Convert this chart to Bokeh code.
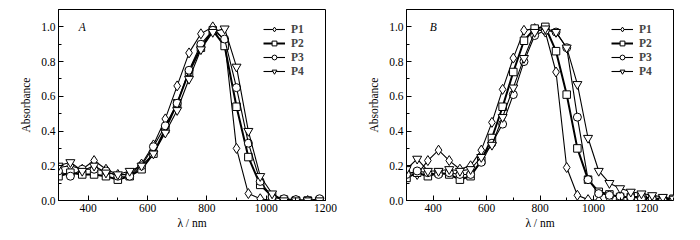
from bokeh.plotting import figure
from bokeh.layouts import row
from bokeh.models import SingleIntervalTicker, Legend, LegendItem, Label, Range1d, PrintfTickFormatter
from bokeh.embed import file_html
from bokeh.resources import INLINE

# Panel A data
wl_a = [300, 340, 380, 420, 460, 500, 540, 580, 620, 660, 700, 740, 780, 820, 860, 900, 940, 980, 1020, 1060, 1100, 1140, 1180]
a_p1 = [0.19, 0.20, 0.18, 0.23, 0.18, 0.15, 0.15, 0.21, 0.32, 0.47, 0.66, 0.85, 0.96, 1.00, 0.92, 0.30, 0.04, 0.01, 0.00, 0.00, 0.00, 0.00, 0.00]
a_p2 = [0.14, 0.16, 0.15, 0.15, 0.14, 0.12, 0.14, 0.18, 0.27, 0.41, 0.56, 0.74, 0.88, 0.98, 0.89, 0.54, 0.25, 0.09, 0.025, 0.005, 0.00, 0.00, 0.00]
a_p3 = [0.17, 0.14, 0.18, 0.18, 0.17, 0.14, 0.14, 0.20, 0.31, 0.43, 0.56, 0.75, 0.90, 0.98, 0.93, 0.65, 0.33, 0.11, 0.02, 0.01, 0.005, 0.00, 0.01]
a_p4 = [0.20, 0.22, 0.17, 0.20, 0.16, 0.15, 0.17, 0.20, 0.27, 0.39, 0.52, 0.70, 0.87, 0.97, 0.99, 0.77, 0.40, 0.14, 0.04, 0.00, 0.00, 0.00, 0.00]

# Panel B data
wl_b = [300, 340, 380, 420, 460, 500, 540, 580, 620, 660, 700, 740, 780, 820, 860, 900, 940, 980, 1020, 1060, 1100, 1140, 1180, 1220, 1260, 1300]
b_p1 = [0.17, 0.15, 0.23, 0.29, 0.23, 0.18, 0.20, 0.29, 0.45, 0.64, 0.82, 0.98, 0.99, 0.97, 0.74, 0.19, 0.03, 0.005, 0.00, 0.00, 0.00, 0.00, 0.00, 0.00, 0.00, 0.00]
b_p2 = [0.13, 0.16, 0.14, 0.16, 0.15, 0.12, 0.14, 0.23, 0.36, 0.54, 0.74, 0.92, 0.99, 1.00, 0.86, 0.61, 0.30, 0.12, 0.05, 0.035, 0.02, 0.02, 0.02, 0.01, 0.01, 0.01]
b_p3 = [0.15, 0.17, 0.16, 0.15, 0.16, 0.15, 0.15, 0.22, 0.33, 0.44, 0.61, 0.80, 0.95, 0.98, 0.97, 0.88, 0.48, 0.12, 0.04, 0.03, 0.025, 0.02, 0.01, 0.01, 0.005, 0.005]
b_p4 = [0.18, 0.24, 0.17, 0.17, 0.18, 0.17, 0.18, 0.25, 0.32, 0.48, 0.65, 0.82, 0.97, 0.99, 0.97, 0.88, 0.67, 0.36, 0.17, 0.10, 0.07, 0.05, 0.04, 0.03, 0.02, 0.01]

series_names = ["P1", "P2", "P3", "P4"]
markers = ["diamond", "square", "circle", "inverted_triangle"]
marker_sizes = [10, 7.5, 8, 9]
line_widths = [1.1, 2.0, 1.1, 1.1]

FONT = "Liberation Serif"


def make_panel(tag, wl, ys, xmax, bl, br):
    p = figure(width=350, height=240, output_backend="svg", toolbar_location=None,
               x_range=Range1d(300, xmax), y_range=Range1d(0, 1.1),
               min_border_left=bl, min_border_right=br, min_border_top=9, min_border_bottom=40)
    p.outline_line_color = "black"
    p.outline_line_width = 1
    p.xgrid.visible = False
    p.ygrid.visible = False
    p.background_fill_color = "white"
    p.border_fill_color = "white"

    p.xaxis.ticker = SingleIntervalTicker(interval=200, num_minor_ticks=2)
    p.yaxis.ticker = SingleIntervalTicker(interval=0.2, num_minor_ticks=2)
    p.yaxis.formatter = PrintfTickFormatter(format="%.1f")
    for ax in (p.xaxis[0], p.yaxis[0]):
        ax.major_tick_in = 5
        ax.major_tick_out = 0
        ax.minor_tick_in = 3
        ax.minor_tick_out = 0
        ax.axis_line_color = "black"
        ax.major_tick_line_color = "black"
        ax.minor_tick_line_color = "black"
        ax.major_label_text_font = FONT
        ax.major_label_text_font_size = "11.5px"
        ax.major_label_text_color = "black"
        ax.axis_label_text_font = FONT
        ax.axis_label_text_font_size = "11.5px"
        ax.axis_label_text_font_style = "normal"
        ax.axis_label_text_color = "black"
    p.xaxis.major_label_standoff = 3
    p.yaxis.major_label_standoff = 3
    p.xaxis.axis_label = "λ / nm"
    p.xaxis.axis_label_standoff = 2
    p.yaxis.axis_label = "Absorbance"
    p.yaxis.axis_label_standoff = 6

    items = []
    for name, y, mk, ms, lw in zip(series_names, ys, markers, marker_sizes, line_widths):
        ln = p.line(wl, y, line_color="black", line_width=lw)
        sc = p.scatter(wl, y, marker=mk, size=ms, fill_color="white", line_color="black", line_width=1)
        items.append(LegendItem(label=name, renderers=[ln, sc]))

    leg = Legend(items=items, location=(205, 123))
    leg.border_line_color = None
    leg.background_fill_alpha = 0
    leg.label_text_font = FONT
    leg.label_text_font_style = "bold"
    leg.label_text_font_size = "11.5px"
    leg.glyph_width = 22
    leg.glyph_height = 12
    leg.label_height = 12
    leg.spacing = 2
    leg.padding = 4
    leg.margin = 0
    leg.label_standoff = 6
    p.add_layout(leg)

    lab = Label(x=380 if tag == "A" else 400, y=1.0, text=tag, text_font=FONT,
                text_font_style="italic", text_font_size="11.5px",
                text_align="center", text_baseline="middle", text_color="black")
    p.add_layout(lab)
    return p


pa = make_panel("A", wl_a, [a_p1, a_p2, a_p3, a_p4], 1200, 58, 25)
pb = make_panel("B", wl_b, [b_p1, b_p2, b_p3, b_p4], 1300, 56, 27)

layout = row(pa, pb)
open("out.html", "w").write(file_html(layout, INLINE))
